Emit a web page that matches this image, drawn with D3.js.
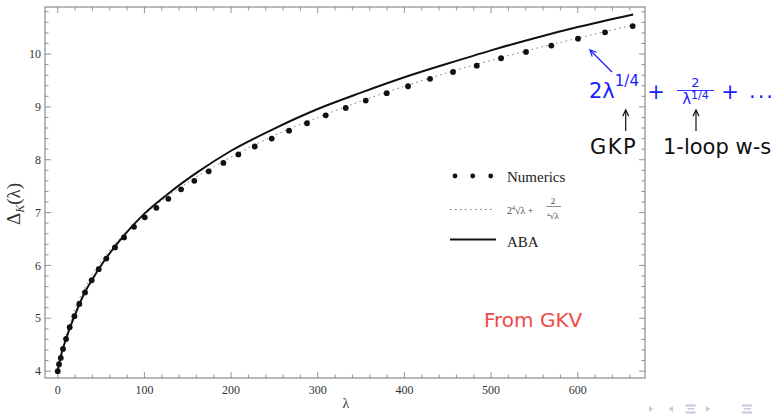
<!DOCTYPE html>
<html>
<head>
<meta charset="utf-8">
<script src="https://cdn.jsdelivr.net/npm/d3@7"></script>
<style>
  body { margin: 0; background: #fff; }
  svg { display: block; }
</style>
</head>
<body>
<svg id="chart" width="776" height="414"></svg>
<script>
// numerics (points)
var numLambda = [0,1.5,3.5,6.1,9.6,13.8,19.2,24.9,31.5,39.2,47.3,56.1,66.1,76.5,88,100.4,113.8,127.6,142.3,157.6,174.2,191.1,208.4,227.3,246.9,266.9,287.6,309.2,332.3,355.4,379.6,404.2,429.6,456.1,483.5,511.5,540.3,569.5,600.3,631.5,663.4];
var numDelta  = [4.0,4.13,4.25,4.42,4.61,4.83,5.04,5.27,5.49,5.72,5.93,6.13,6.34,6.53,6.73,6.91,7.09,7.26,7.44,7.60,7.78,7.94,8.10,8.25,8.40,8.55,8.69,8.84,8.98,9.12,9.26,9.39,9.53,9.66,9.78,9.92,10.04,10.16,10.29,10.41,10.53];
// ABA (solid)
var abaLambda = [0,2,5,10,15,20,30,40,50,75,100,130,160,200,250,300,350,400,450,500,550,600,664];
var abaDelta  = [4.0,4.17,4.37,4.63,4.86,5.07,5.45,5.74,6.0,6.54,6.98,7.39,7.75,8.17,8.59,8.96,9.27,9.56,9.82,10.07,10.30,10.51,10.75];
// 2 lambda^(1/4) + 2/lambda^(1/4) (dotted)
var dotLambda = [10,20,30,50,75,100,150,200,250,300,350,400,450,500,550,600,664];
var dotDelta  = [4.68,5.18,5.54,6.07,6.57,6.96,7.57,8.05,8.46,8.80,9.11,9.39,9.65,9.88,10.10,10.30,10.55];

var xTicks = [0,100,200,300,400,500,600];
var yTicks = [4,5,6,7,8,9,10];

(function() {
  var svg = d3.select("#chart");
  var pL = 45, pR = 645, pT = 7, pB = 378;

  var x = d3.scaleLinear().domain([-14.7, 677.6]).range([pL, pR]);
  var y = d3.scaleLinear().domain([3.87, 10.89]).range([pB, pT]);

  var frameCol = "#777";
  var serif = "'Liberation Serif','Times New Roman',serif";
  var sans = "'DejaVu Sans',sans-serif";

  // frame
  svg.append("rect")
    .attr("x", pL).attr("y", pT)
    .attr("width", pR - pL).attr("height", pB - pT)
    .attr("fill", "none").attr("stroke", frameCol).attr("stroke-width", 1);

  // ticks on all four sides, pointing inward
  var xMinor = d3.range(0, 677, 20);
  var yMinor = d3.range(4, 10.9, 0.2);
  var ticks = svg.append("g").attr("stroke", frameCol).attr("stroke-width", 0.8);
  xMinor.forEach(function(v) {
    var len = (Math.abs(v % 100) < 0.01) ? 6 : 3.5;
    ticks.append("line").attr("x1", x(v)).attr("x2", x(v)).attr("y1", pB).attr("y2", pB - len);
    ticks.append("line").attr("x1", x(v)).attr("x2", x(v)).attr("y1", pT).attr("y2", pT + len);
  });
  yMinor.forEach(function(v) {
    var major = Math.abs(v - Math.round(v)) < 0.01;
    var len = major ? 6 : 3.5;
    ticks.append("line").attr("y1", y(v)).attr("y2", y(v)).attr("x1", pL).attr("x2", pL + len);
    ticks.append("line").attr("y1", y(v)).attr("y2", y(v)).attr("x1", pR).attr("x2", pR - len);
  });

  // tick labels
  svg.append("g").selectAll("text").data(xTicks).join("text")
    .attr("x", function(d) { return x(d); }).attr("y", 394)
    .attr("text-anchor", "middle")
    .attr("font-family", serif).attr("font-size", 12).attr("fill", "#333")
    .text(function(d) { return d; });
  svg.append("g").selectAll("text").data(yTicks).join("text")
    .attr("x", 41).attr("y", function(d) { return y(d); }).attr("dy", "0.35em")
    .attr("text-anchor", "end")
    .attr("font-family", serif).attr("font-size", 12).attr("fill", "#333")
    .text(function(d) { return d; });

  // axis labels
  svg.append("text").attr("x", 346).attr("y", 408)
    .attr("text-anchor", "middle").attr("font-family", serif).attr("font-size", 14).attr("fill", "#333")
    .text("λ");
  var yl = svg.append("text")
    .attr("transform", "translate(20,204) rotate(-90)")
    .attr("text-anchor", "middle").attr("font-family", serif).attr("font-size", 19).attr("fill", "#333");
  yl.append("tspan").text("Δ");
  yl.append("tspan").attr("font-style", "italic").attr("font-size", 12).attr("dy", 4).text("K");
  yl.append("tspan").attr("dy", -4).text("(λ)");

  // curves
  var line = d3.line()
    .x(function(d) { return x(d[0]); })
    .y(function(d) { return y(d[1]); })
    .curve(d3.curveMonotoneX);

  svg.append("path")
    .datum(dotLambda.map(function(l, i) { return [l, dotDelta[i]]; }))
    .attr("d", line).attr("fill", "none")
    .attr("stroke", "#777").attr("stroke-width", 1).attr("stroke-dasharray", "1.5,3.5");

  svg.append("path")
    .datum(abaLambda.map(function(l, i) { return [l, abaDelta[i]]; }))
    .attr("d", line).attr("fill", "none")
    .attr("stroke", "#111").attr("stroke-width", 2);

  svg.append("g").selectAll("circle")
    .data(numLambda.map(function(l, i) { return [l, numDelta[i]]; }))
    .join("circle")
    .attr("cx", function(d) { return x(d[0]); })
    .attr("cy", function(d) { return y(d[1]); })
    .attr("r", 2.9).attr("fill", "#111");

  // legend
  var lg = svg.append("g");
  [455, 472.7, 490.7].forEach(function(cx) {
    lg.append("circle").attr("cx", cx).attr("cy", 176).attr("r", 2.4).attr("fill", "#111");
  });
  lg.append("text").attr("x", 507).attr("y", 181.5).attr("font-family", serif).attr("font-size", 15).attr("fill", "#222").text("Numerics");
  lg.append("line").attr("x1", 450).attr("x2", 492).attr("y1", 209.5).attr("y2", 209.5)
    .attr("stroke", "#777").attr("stroke-width", 1).attr("stroke-dasharray", "1.5,3.5");
  var f1 = lg.append("text").attr("x", 507).attr("y", 214).attr("font-family", serif).attr("font-size", 10).attr("fill", "#444");
  f1.append("tspan").text("2");
  f1.append("tspan").attr("font-size", 6).attr("dy", -4).text("4");
  f1.append("tspan").attr("dy", 4).text("√λ  +");
  lg.append("text").attr("x", 553).attr("y", 204).attr("text-anchor", "middle").attr("font-family", serif).attr("font-size", 9).attr("fill", "#444").text("2");
  lg.append("line").attr("x1", 546).attr("x2", 561).attr("y1", 206.5).attr("y2", 206.5).attr("stroke", "#444").attr("stroke-width", 0.6);
  var f2 = lg.append("text").attr("x", 553).attr("y", 219).attr("text-anchor", "middle").attr("font-family", serif).attr("font-size", 9).attr("fill", "#444");
  f2.append("tspan").attr("font-size", 5).attr("dy", -3).text("4");
  f2.append("tspan").attr("dy", 3).text("√λ");
  lg.append("line").attr("x1", 450).attr("x2", 496).attr("y1", 239.5).attr("y2", 239.5).attr("stroke", "#111").attr("stroke-width", 2);
  lg.append("text").attr("x", 507).attr("y", 246.5).attr("font-family", serif).attr("font-size", 15).attr("fill", "#222").text("ABA");

  // "From GKV"
  svg.append("text").attr("x", 484).attr("y", 327).attr("font-family", sans).attr("font-size", 20).attr("fill", "#ef4a45").text("From GKV");

  // blue annotation
  var blue = "#1a1aff";
  var an = svg.append("g").attr("font-family", sans).attr("fill", blue);
  var t1 = an.append("text").attr("x", 589).attr("y", 98).attr("font-size", 21);
  t1.append("tspan").text("2λ");
  t1.append("tspan").attr("font-size", 15).attr("dy", -12).text("1/4");
  an.append("text").attr("x", 656).attr("y", 99).attr("text-anchor", "middle").attr("font-size", 21).text("+");
  an.append("text").attr("x", 695.5).attr("y", 87).attr("text-anchor", "middle").attr("font-size", 13).text("2");
  an.append("line").attr("x1", 677).attr("x2", 714).attr("y1", 90.5).attr("y2", 90.5).attr("stroke", blue).attr("stroke-width", 0.9);
  var t2 = an.append("text").attr("x", 695.5).attr("y", 104).attr("text-anchor", "middle").attr("font-size", 15);
  t2.append("tspan").text("λ");
  t2.append("tspan").attr("font-size", 11).attr("dy", -5).text("1/4");
  an.append("text").attr("x", 730).attr("y", 99).attr("text-anchor", "middle").attr("font-size", 21).text("+");
  an.append("text").attr("x", 749).attr("y", 98).attr("font-size", 21).attr("letter-spacing", 2).text("...");

  // arrows
  function arrow(x1, y1, x2, y2, col) {
    var a = Math.atan2(y2 - y1, x2 - x1), h = 7, w = 0.45;
    svg.append("line").attr("x1", x1).attr("y1", y1).attr("x2", x2).attr("y2", y2)
      .attr("stroke", col).attr("stroke-width", 1.2);
    svg.append("path")
      .attr("d", "M" + (x2 - h * Math.cos(a - w)) + "," + (y2 - h * Math.sin(a - w)) +
                 "L" + x2 + "," + y2 +
                 "L" + (x2 - h * Math.cos(a + w)) + "," + (y2 - h * Math.sin(a + w)))
      .attr("fill", "none").attr("stroke", col).attr("stroke-width", 1.2);
  }
  arrow(612, 72, 590, 50, blue);
  arrow(625.7, 131, 625.7, 110, "#111");
  arrow(696, 131, 696, 110, "#111");

  svg.append("text").attr("x", 590).attr("y", 154).attr("font-family", sans).attr("font-size", 21)
    .attr("letter-spacing", 1.5).attr("fill", "#111").text("GKP");
  svg.append("text").attr("x", 663).attr("y", 154).attr("font-family", sans).attr("font-size", 21).attr("fill", "#111").text("1-loop w-s");

  // beamer navigation symbols
  var nav = svg.append("g").attr("fill", "#c8c8e2").attr("stroke", "none");
  nav.append("path").attr("d", "M649,406L649,412L653.5,409Z");
  nav.append("path").attr("d", "M673,406L673,412L668.5,409Z");
  nav.append("path").attr("d", "M706,406L706,412L710.5,409Z");
  [690.5, 747].forEach(function(cx) {
    nav.append("rect").attr("x", cx - 5).attr("y", 404.5).attr("width", 10).attr("height", 2);
    nav.append("rect").attr("x", cx - 3).attr("y", 408).attr("width", 7).attr("height", 1.5);
    nav.append("rect").attr("x", cx - 5).attr("y", 411.5).attr("width", 10).attr("height", 2);
  });
})();
</script>
</body>
</html>
